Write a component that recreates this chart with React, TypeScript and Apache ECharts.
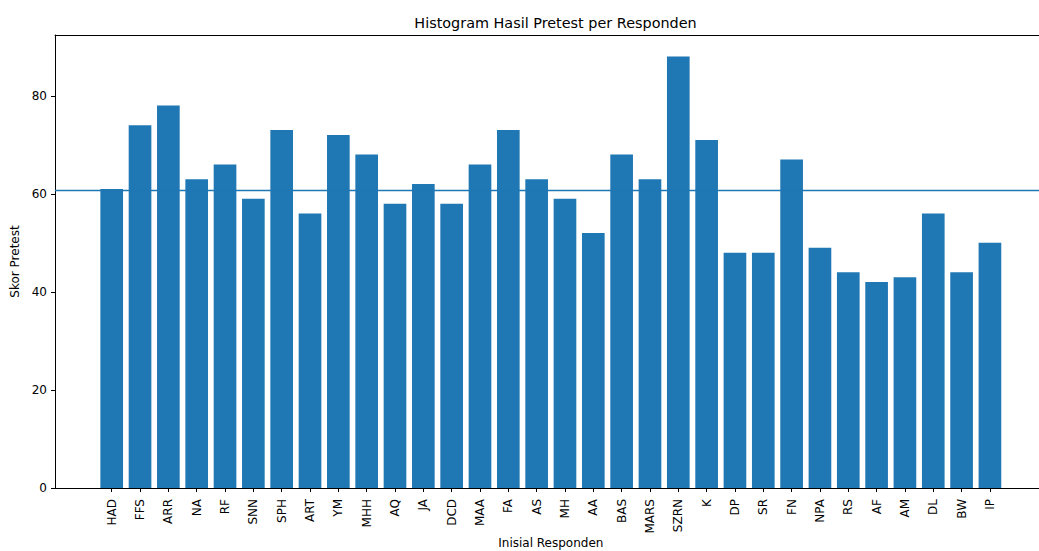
import React, { useEffect, useRef } from "react";
import * as echarts from "echarts";

const categories = [
  "HAD", "FFS", "ARR", "NA", "RF", "SNN", "SPH", "ART", "YM", "MHH", "AQ", "JA",
  "DCD", "MAA", "FA", "AS", "MH", "AA", "BAS", "MARS", "SZRN", "K", "DP", "SR",
  "FN", "NPA", "RS", "AF", "AM", "DL", "BW", "IP",
];
const scores = [
  61, 74, 78, 63, 66, 59, 73, 56, 72, 68, 58, 62,
  58, 66, 73, 63, 59, 52, 68, 63, 88, 71, 48, 48,
  67, 49, 44, 42, 43, 56, 44, 50,
];
const yTicks = [0, 20, 40, 60, 80];
const meanScore = scores.reduce((a, b) => a + b, 0) / scores.length;

const FONT = "DejaVu Sans";
const BLUE = "#1f77b4";

export default function App() {
  const ref = useRef<HTMLDivElement>(null);
  useEffect(() => {
    if (!ref.current) return;
    const chart = echarts.init(ref.current, undefined, { renderer: "svg" });
    const unit = 28.33;
    const firstCenter = 111.7;
    const innerLeft = firstCenter - unit / 2;
    const innerWidth = unit * categories.length;
    const yMax = 92.4;
    chart.setOption({
      animation: false,
      backgroundColor: "#ffffff",
      textStyle: { fontFamily: FONT, color: "#000" },
      title: {
        text: "Histogram Hasil Pretest per Responden",
        left: 550.5,
        textAlign: "center",
        top: 11,
        textStyle: { fontFamily: FONT, fontSize: 14.4, fontWeight: "normal", color: "#000" },
      },
      grid: [
        { left: 55, top: 35, width: 991, height: 453, containLabel: false, outerBoundsMode: "none" },
        { left: innerLeft, top: 35, width: innerWidth, height: 453, containLabel: false, outerBoundsMode: "none" },
      ],
      xAxis: [
        {
          gridIndex: 0,
          type: "value",
          min: 0,
          max: 1,
          position: "bottom",
          axisLine: { show: true, lineStyle: { color: "#000", width: 1 } },
          axisTick: { show: false },
          axisLabel: { show: false },
          splitLine: { show: false },
        },
        {
          gridIndex: 0,
          type: "value",
          min: 0,
          max: 1,
          position: "top",
          axisLine: { show: true, lineStyle: { color: "#000", width: 1 } },
          axisTick: { show: false },
          axisLabel: { show: false },
          splitLine: { show: false },
        },
        {
          gridIndex: 1,
          type: "category",
          data: categories,
          boundaryGap: true,
          axisLine: { show: false },
          axisTick: { show: true, alignWithLabel: true, length: 4, lineStyle: { color: "#000", width: 1 } },
          axisLabel: {
            rotate: 90,
            interval: 0,
            margin: 11,
            fontFamily: FONT,
            fontSize: 12,
            color: "#000",
          },
          name: "Inisial Responden",
          nameLocation: "middle",
          nameGap: 49,
          nameMoveOverlap: false,
          nameTextStyle: { fontFamily: FONT, fontSize: 12, color: "#000" },
          splitLine: { show: false },
        },
      ],
      yAxis: [
        {
          gridIndex: 0,
          type: "value",
          min: 0,
          max: yMax,
          position: "left",
          axisLine: { show: true, lineStyle: { color: "#000", width: 1 } },
          axisTick: { show: true, length: 4, customValues: yTicks, lineStyle: { color: "#000", width: 1 } },
          axisLabel: { customValues: yTicks, margin: 8, fontFamily: FONT, fontSize: 12, color: "#000" },
          splitLine: { show: false },
          name: "Skor Pretest",
          nameLocation: "middle",
          nameRotate: 90,
          nameGap: 34,
          nameMoveOverlap: false,
          nameTextStyle: { fontFamily: FONT, fontSize: 12, color: "#000" },
        },
        {
          gridIndex: 1,
          type: "value",
          min: 0,
          max: yMax,
          show: false,
        },
      ],
      series: [
        {
          type: "bar",
          xAxisIndex: 2,
          yAxisIndex: 1,
          data: scores,
          barWidth: "80%",
          itemStyle: { color: BLUE },
        },
        {
          type: "line",
          xAxisIndex: 0,
          yAxisIndex: 0,
          data: [[0, meanScore], [1, meanScore]],
          symbol: "none",
          lineStyle: { color: BLUE, width: 1.6 },
          z: 3,
        },
      ],
    });
    return () => chart.dispose();
  }, []);
  return (
    <div
      ref={ref}
      style={{ position: "absolute", left: 0, top: 0, width: 1039, height: 551, background: "#fff" }}
    />
  );
}
